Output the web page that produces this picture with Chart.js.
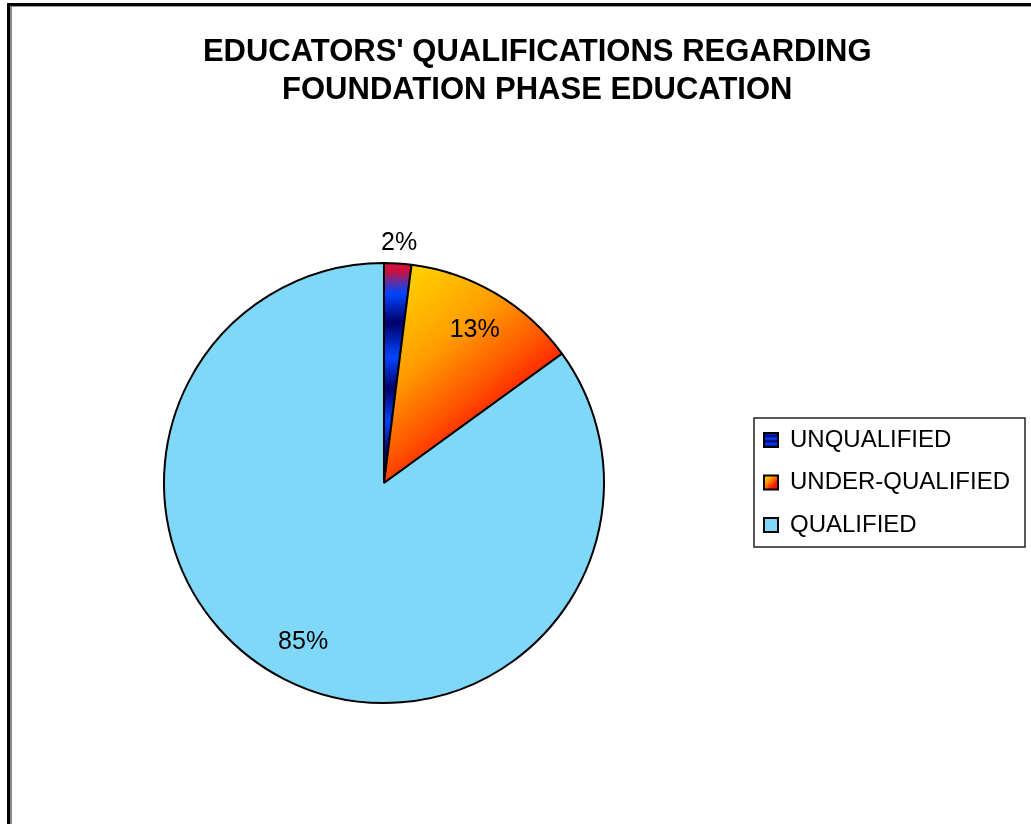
<!DOCTYPE html>
<html>
<head>
<meta charset="utf-8">
<title>Educators' qualifications</title>
<script src="https://cdn.jsdelivr.net/npm/chart.js@4.4.1/dist/chart.umd.min.js"></script>
<style>
  html, body { margin: 0; padding: 0; background: #fff; overflow: hidden; }
  #frame { position: absolute; left: 7px; top: 3px; width: 1100px; height: 900px;
           border-left: 3px solid #000; border-top: 3px solid #000; }
  #frame div { width: 100%; height: 100%; border-left: 2px solid #8a8a8a; border-top: 1px solid #9a9a9a; }
  #wrap { position: absolute; left: 0; top: 0; width: 1031px; height: 824px; }
</style>
</head>
<body>
<div id="frame"><div></div></div>
<div id="wrap"><canvas id="myChart"></canvas></div>
<script>
const titleLines = ["EDUCATORS' QUALIFICATIONS REGARDING", "FOUNDATION PHASE EDUCATION"];
const categories = ['UNQUALIFIED', 'UNDER-QUALIFIED', 'QUALIFIED'];
const percents = [2, 13, 85];

const FONT = '"Liberation Sans", Arial, sans-serif';
const PIE_RADIUS = 220;
const plainColors = ['#0038e0', '#ff7a00', '#80d8f8'];

// blue / navy banded fill with a red cap (first slice)
function stripeFill(c, y0, y1) {
    const g = c.createLinearGradient(0, y0, 0, y1);
    g.addColorStop(0.00, '#d8103a');
    g.addColorStop(0.04, '#c81040');
    g.addColorStop(0.09, '#5830a8');
    g.addColorStop(0.14, '#0044ff');
    g.addColorStop(0.27, '#000068');
    g.addColorStop(0.43, '#0044ff');
    g.addColorStop(0.57, '#000068');
    g.addColorStop(0.72, '#0044ff');
    g.addColorStop(0.86, '#000070');
    g.addColorStop(1.00, '#0038f0');
    return g;
}

// yellow -> red diagonal fill (second slice)
function fireFill(c, x0, y0, x1, y1) {
    const g = c.createLinearGradient(x0, y0, x1, y1);
    g.addColorStop(0.00, '#ffe000');
    g.addColorStop(0.35, '#ff9c00');
    g.addColorStop(0.55, '#ff5400');
    g.addColorStop(0.68, '#ff1a00');
    g.addColorStop(1.00, '#ff0000');
    return g;
}

function sliceFill(context) {
    const chart = context.chart;
    const i = context.dataIndex;
    const area = chart.chartArea;
    if (!area || i === 2) return plainColors[i];
    const cx = (area.left + area.right) / 2;
    const cy = (area.top + area.bottom) / 2;
    const total = percents.reduce((a, b) => a + b, 0);
    let before = 0;
    for (let k = 0; k < i; k++) before += percents[k];
    const a0 = before / total * 2 * Math.PI;
    const a1 = (before + percents[i]) / total * 2 * Math.PI;
    if (i === 0) return stripeFill(chart.ctx, cy - PIE_RADIUS, cy);
    return fireFill(chart.ctx, cx, cy - PIE_RADIUS * Math.cos(a0),
        cx + PIE_RADIUS * Math.sin(a1), cy);
}

const pctLabels = {
    id: 'pctLabels',
    afterDatasetsDraw(chart) {
        const ctx = chart.ctx;
        const meta = chart.getDatasetMeta(0);
        ctx.save();
        ctx.font = '25px ' + FONT;
        ctx.fillStyle = '#000';
        ctx.textAlign = 'center';
        ctx.textBaseline = 'middle';
        meta.data.forEach((arc, i) => {
            const p = arc.getProps(['x', 'y', 'startAngle', 'endAngle', 'outerRadius'], true);
            const mid = (p.startAngle + p.endAngle) / 2;
            const dist = percents[i] < 5 ? p.outerRadius + 20 : p.outerRadius * 0.81;
            ctx.fillText(percents[i] + '%', p.x + Math.cos(mid) * dist, p.y + Math.sin(mid) * dist);
        });
        ctx.restore();
    }
};

const legendFrame = {
    id: 'legendFrame',
    afterLayout(chart) {
        // title is centred on the original (wider) sheet
        chart.titleBlock.left += 16;
        chart.titleBlock.right += 16;
    },
    afterUpdate(chart) {
        const legend = chart.legend;
        const hb = legend.legendHitBoxes;
        const c = chart.ctx;
        legend.legendItems.forEach((item, i) => {
            const bx = hb[i].left, by = hb[i].top + 5;
            if (i === 0) item.fillStyle = stripeFill(c, by - 2, by + 16);
            if (i === 1) item.fillStyle = fireFill(c, bx, by, bx + 14, by + 14);
        });
    },
    afterDraw(chart) {
        const hb = chart.legend.legendHitBoxes;
        const ctx = chart.ctx;
        const left = hb[0].left - 10;
        const right = Math.max(...hb.map(h => h.left + h.width)) + 15;
        const top = hb[0].top - 10;
        const last = hb[hb.length - 1];
        const bottom = last.top + last.height + 10;
        ctx.save();
        ctx.strokeStyle = '#222';
        ctx.lineWidth = 1.5;
        ctx.strokeRect(left, top, right - left, bottom - top);
        ctx.restore();
    }
};

const data = {
    labels: categories,
    datasets: [{
        data: percents,
        backgroundColor: sliceFill,
        borderColor: '#000',
        borderWidth: 2,
        radius: PIE_RADIUS
    }]
};

const config = {
    type: 'pie',
    data: data,
    options: {
        responsive: true,
        maintainAspectRatio: false,
        animation: false,
        layout: { padding: { left: 22.5, right: 11, top: 0, bottom: 0 } },
        plugins: {
            title: {
                display: true,
                text: titleLines,
                color: '#000',
                font: { family: FONT, size: 31, weight: 'bold', lineHeight: 38 / 31 },
                padding: { top: 33, bottom: 33 }
            },
            legend: {
                position: 'right',
                title: { display: true, text: '', padding: { top: 131, bottom: 0 }, font: { size: 10, lineHeight: 1 } },
                labels: {
                    boxWidth: 14,
                    boxHeight: 14,
                    padding: 18.5,
                    color: '#000',
                    font: { family: FONT, size: 24, lineHeight: 1 }
                }
            },
            tooltip: { enabled: false }
        }
    },
    plugins: [pctLabels, legendFrame]
};

const myChart = new Chart(document.getElementById('myChart'), config);
</script>
</body>
</html>
